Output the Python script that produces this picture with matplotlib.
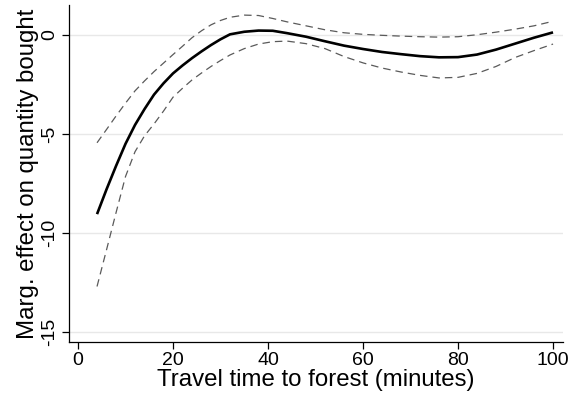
import matplotlib
matplotlib.use("Agg")
import matplotlib.pyplot as plt

plt.rcParams['font.family'] = ['Liberation Sans', 'DejaVu Sans']

travel_time = [4, 6, 8, 10, 12, 14, 16, 18, 20, 22, 24, 26, 28, 30, 32, 35, 38,
               41, 44, 48, 52, 56, 60, 64, 68, 72, 76, 80, 84, 88, 92, 96, 100]
effect = [-9.05, -7.8, -6.62, -5.5, -4.55, -3.75, -3.02, -2.45, -1.95, -1.55,
          -1.18, -0.84, -0.52, -0.23, 0.02, 0.15, 0.21, 0.2, 0.08, -0.1, -0.33,
          -0.55, -0.72, -0.87, -0.98, -1.08, -1.14, -1.13, -1.0, -0.75, -0.45,
          -0.15, 0.12]
upper_ci = [-5.45, -4.78, -4.1, -3.45, -2.83, -2.33, -1.86, -1.43, -1.0, -0.58,
            -0.15, 0.2, 0.5, 0.72, 0.88, 0.99, 0.97, 0.82, 0.65, 0.45, 0.25,
            0.1, 0.02, -0.03, -0.07, -0.1, -0.12, -0.1, 0.0, 0.13, 0.28, 0.45,
            0.68]
lower_ci = [-12.7, -10.85, -8.98, -7.15, -5.9, -5.1, -4.5, -3.85, -3.15, -2.7,
            -2.28, -1.93, -1.6, -1.3, -1.02, -0.7, -0.47, -0.35, -0.32, -0.45,
            -0.7, -1.1, -1.42, -1.68, -1.88, -2.05, -2.18, -2.15, -1.95, -1.6,
            -1.15, -0.8, -0.47]
x_ticks = [0, 20, 40, 60, 80, 100]
y_ticks = [0, -5, -10, -15]

fig = plt.figure(figsize=(5.76, 4.0), dpi=100)
ax = fig.add_axes([69/576, 1 - 342/400, (563 - 69)/576, (342 - 5)/400])

for yt in y_ticks:
    ax.axhline(yt, color='#e8e8e8', lw=1.0, zorder=0)

ax.plot(travel_time, upper_ci, color='#5a5a5a', lw=0.9, dashes=(6, 4))
ax.plot(travel_time, lower_ci, color='#5a5a5a', lw=0.9, dashes=(6, 4))
ax.plot(travel_time, effect, color='black', lw=1.9, solid_capstyle='butt',
        solid_joinstyle='round')

ax.set_xlim(-1.9, 102.1)
ax.set_ylim(-15.5, 1.5)
ax.set_xticks(x_ticks)
ax.set_yticks(y_ticks)
ax.set_xticklabels([str(v) for v in x_ticks], fontsize=14)
ax.set_yticklabels([str(v) for v in y_ticks], fontsize=14, rotation=90, va='center')
ax.tick_params(axis='both', direction='out', length=5, width=0.9, color='black')
ax.tick_params(axis='x', pad=2)
ax.tick_params(axis='y', pad=3)

for s in ['top', 'right']:
    ax.spines[s].set_visible(False)
for s in ['left', 'bottom']:
    ax.spines[s].set_linewidth(0.9)

ax.set_xlabel('Travel time to forest (minutes)', fontsize=17.3, labelpad=0)
ax.set_ylabel('Marg. effect on quantity bought', fontsize=17.3, labelpad=1)

fig.savefig('out.png', dpi=100)
